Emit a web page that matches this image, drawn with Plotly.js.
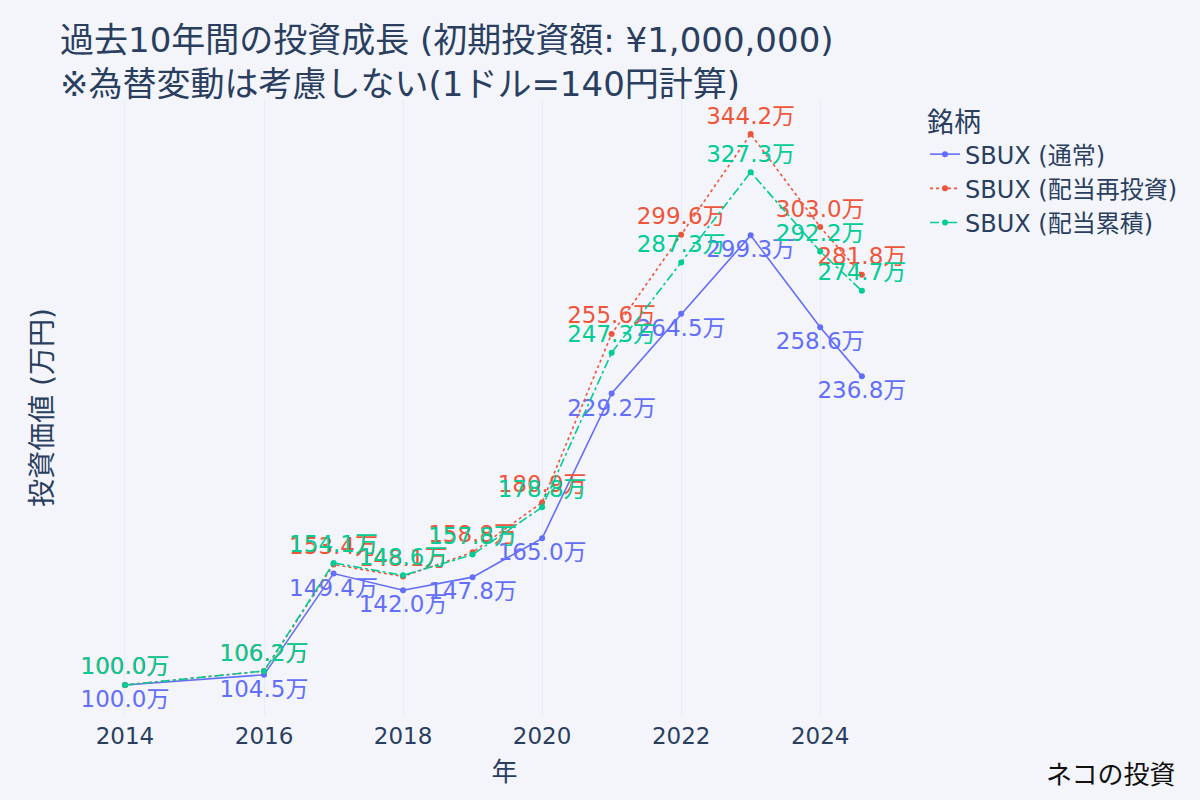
<!DOCTYPE html>
<html>
<head>
<meta charset="utf-8">
<script src="https://cdn.plot.ly/plotly-3.0.1.min.js"></script>
<style>
  html, body { margin: 0; padding: 0; background: #f4f5fa; }
  #chart { width: 1200px; height: 800px; }
</style>
</head>
<body>
<div id="chart"></div>
<script>
const years = [2014, 2016, 2017, 2018, 2019, 2020, 2021, 2022, 2023, 2024, 2024.6];
const normalValues = [100.0, 104.5, 149.4, 142.0, 147.8, 165.0, 229.2, 264.5, 299.3, 258.6, 236.8];
const reinvestValues = [100.0, 106.2, 153.4, 148.1, 158.8, 180.9, 255.6, 299.6, 344.2, 303.0, 281.8];
const accumValues = [100.0, 106.2, 154.1, 148.6, 157.8, 178.8, 247.3, 287.3, 327.3, 292.2, 274.7];
const seriesNames = ["SBUX (通常)", "SBUX (配当再投資)", "SBUX (配当累積)"];

const FONT = "'DejaVu Sans', 'Noto Sans CJK JP', sans-serif";

function label(vals) {
  return vals.map(v => v.toFixed(1) + "万");
}

function makeTrace(name, vals, color, dash, pos) {
  return {
    type: "scatter",
    mode: "lines+markers+text",
    name: name,
    x: years,
    y: vals,
    text: label(vals),
    textposition: pos,
    textfont: { size: 23, color: color, family: FONT },
    line: { color: color, width: 1.6, dash: dash },
    marker: { color: color, size: 6 },
    cliponaxis: false
  };
}

const traces = [
  makeTrace(seriesNames[0], normalValues, "#636efa", "solid", "bottom center"),
  makeTrace(seriesNames[1], reinvestValues, "#ef553b", "dot", "top center"),
  makeTrace(seriesNames[2], accumValues, "#00cc96", "dashdot", "top center")
];

const layout = {
  width: 1200,
  height: 800,
  paper_bgcolor: "#f4f5fa",
  plot_bgcolor: "#f4f5fa",
  font: { family: FONT, color: "#2a3f5f" },
  margin: { l: 104, r: 295, t: 100, b: 85 },
  title: {
    text: "過去10年間の投資成長 (初期投資額: ¥1,000,000)<br>※為替変動は考慮しない(1ドル=140円計算)",
    font: { size: 34, color: "#2a3f5f" },
    x: 0.05,
    xanchor: "left",
    y: 0.935,
    yanchor: "middle"
  },
  xaxis: {
    title: { text: "年", font: { size: 26 }, standoff: 14 },
    range: [2013.698, 2025.22],
    tickvals: [2014, 2016, 2018, 2020, 2022, 2024],
    tickfont: { size: 23 },
    ticklabelstandoff: 5,
    showgrid: true,
    gridcolor: "#e8ebf3",
    zeroline: false,
    showline: false
  },
  yaxis: {
    title: { text: "投資価値 (万円)", font: { size: 28 } },
    range: [86.7, 359.3],
    showticklabels: false,
    tickfont: { size: 8 },
    showgrid: false,
    zeroline: false
  },
  legend: {
    title: { text: "銘柄", font: { size: 27 } },
    font: { size: 24 },
    x: 1.025,
    xanchor: "left",
    y: 1.005,
    yanchor: "top",
    bgcolor: "rgba(0,0,0,0)"
  },
  annotations: [
    {
      text: "ネコの投資",
      xref: "paper", yref: "paper",
      x: 1.34, y: -0.093,
      xanchor: "right", yanchor: "middle",
      showarrow: false,
      font: { size: 26, color: "#111111", family: "'Noto Sans CJK JP', sans-serif" }
    }
  ]
};

Plotly.newPlot("chart", traces, layout, { displayModeBar: false });
</script>
</body>
</html>
